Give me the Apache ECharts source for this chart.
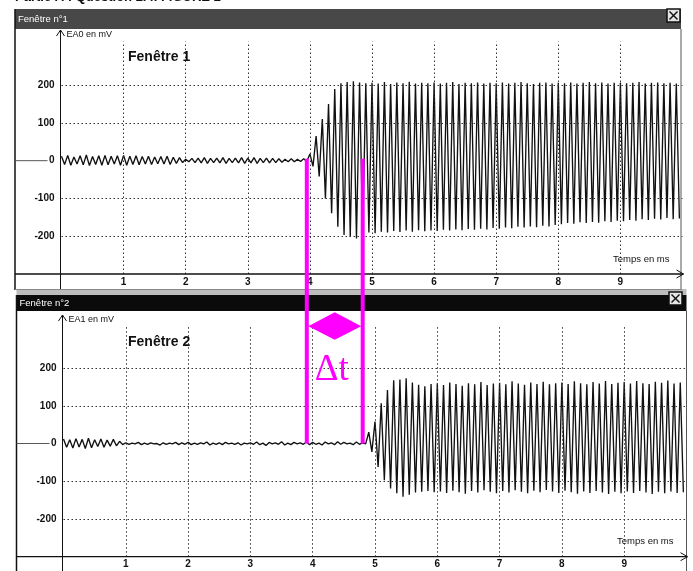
<!DOCTYPE html>
<html><head><meta charset="utf-8">
<script src="https://cdn.jsdelivr.net/npm/echarts@6/dist/echarts.min.js"></script>
<style>html,body{margin:0;padding:0;background:#fff}#c{width:693px;height:571px}</style>
</head><body><div id="c"></div>
<script>
// ---- data ----
const xTicks = [1,2,3,4,5,6,7,8,9];
const yTicks = [-200,-100,0,100,200];
const yGrid = [-200,-100,100,200];
const cycleMs = 0.1; // one maximum and one minimum per 0.1 ms
const ea0Max = [12,14,10,13,15,11,13,14,12,13, 14,12,13,11,12,10,11,12,9,8, 4,6,7,8,6,7,8,6,7,8, 7,8,6,7,6,5,4,5,4,5,
  18,65,110,150,190,205,208,210,207,205, 206,204,208,203,207,205,209,204,206,205, 207,204,206,208,203,206,205,207,204,206,
  205,207,204,206,208,205,203,206,207,204, 206,205,207,204,206,208,205,207,204,206, 207,205,206,208,204,206,207,205,206,204];
const ea0Min = [-10,-12,-9,-11,-13,-10,-12,-11,-9,-12, -12,-10,-11,-9,-10,-8,-9,-10,-7,-5, -3,-5,-6,-7,-5,-6,-7,-5,-6,-7, -6,-7,-5,-6,-5,-4,-3,-3,-2,-2,
  -15,-42,-100,-139,-175,-197,-201,-206,-197,-190, -192,-188,-190,-186,-189,-185,-188,-184,-187,-185, -186,-183,-185,-182,-184,-181,-183,-180,-182,-178,
  -180,-177,-179,-175,-177,-174,-176,-172,-174,-170, -168,-165,-167,-163,-165,-162,-164,-160,-162,-159, -160,-157,-159,-155,-157,-154,-156,-152,-155,-153];
const ea1Max = [12,10,13,11,14,10,12,9,11,6, 2,1,3,1,2,0,2,1,3,2, 3,1,2,4,1,2,3,1,2,1, 2,4,1,3,2,5,1,3,2,4,
  3,1,4,2,5,3,1,4,2,30, 58,107,142,168,170,173,162,156,152,158, 160,155,162,158,153,160,157,163,155,159,
  161,157,165,159,156,162,158,164,157,160, 162,158,165,160,157,163,159,166,158,161, 163,159,166,160,158,164,161,167,159,162];
const ea1Min = [-10,-12,-9,-13,-11,-8,-10,-7,-6,-3, -2,-1,-3,-2,-1,-4,-2,-1,-3,-2, -3,-2,-1,-4,-2,-3,-1,-2,-4,-1, -2,-3,-5,-1,-2,-4,-3,-1,-2,-3,
  -2,-4,-1,-3,-2,-1,-3,-2,-1,-22, -62,-97,-119,-132,-141,-136,-130,-128,-126,-129, -127,-131,-125,-129,-133,-126,-130,-124,-128,-132,
  -126,-130,-124,-128,-132,-125,-129,-123,-127,-131, -125,-129,-133,-127,-131,-126,-130,-134,-128,-132, -127,-131,-126,-130,-134,-128,-132,-127,-131,-129];
const deltaMarks = [3.95, 4.85]; // ms

// ---- build ----
function trace(maxs, mins){
  const d = [];
  for (let k = 0; k < maxs.length; k++){
    d.push([k*cycleMs, maxs[k]]);
    d.push([k*cycleMs + cycleMs/2, mins[k]]);
  }
  return d;
}
const FONT = '"Liberation Sans", Arial, sans-serif';
const chart = echarts.init(document.getElementById('c'), null, {renderer:'canvas'});
function xAx(gi){ return {type:'value', gridIndex:gi, min:0, max:10, interval:1,
  axisLine:{show:false}, axisTick:{show:false}, splitLine:{show:false},
  axisLabel:{margin:3, fontSize:10, fontWeight:'bold', color:'#111', fontFamily:FONT,
    formatter:v => xTicks.includes(v) ? String(v) : ''}}; }
function yAx(gi){ return {type:'value', gridIndex:gi, min:-300, max:315, interval:100,
  axisLine:{show:false}, axisTick:{show:false}, splitLine:{show:false},
  axisLabel:{margin:7, fontSize:10, fontWeight:'bold', color:'#111', fontFamily:FONT,
    formatter:v => yTicks.includes(v) ? String(v) : ''}}; }
function marks(){ return {silent:true, symbol:['none','none'], animation:false, label:{show:false},
  emphasis:{disabled:true}, lineStyle:{type:[1.5,2.5], color:'#333', width:1},
  data:[...xTicks.map(v=>({xAxis:v})), ...yGrid.map(v=>({yAxis:v}))]}; }
function ser(gi, data){ return {type:'line', xAxisIndex:gi, yAxisIndex:gi, data, showSymbol:false, symbol:'none',
  lineStyle:{color:'#111', width:1.35}, animation:false, silent:true, sampling:null, markLine:marks()}; }

chart.setOption({
  animation:false,
  backgroundColor:'#fff',
  grid:[
    {left:61.5, top:41.7, width:621, height:232.3, outerBoundsMode:'none', containLabel:false},
    {left:63.5, top:324.7, width:623, height:232, outerBoundsMode:'none', containLabel:false}
  ],
  xAxis:[xAx(0), xAx(1)],
  yAxis:[yAx(0), yAx(1)],
  series:[ser(0, trace(ea0Max, ea0Min)), ser(1, trace(ea1Max, ea1Min))]
});

const g = [];
function line(x1,y1,x2,y2,stroke,lw,z){ g.push({type:'line', silent:true, z:z||10, shape:{x1,y1,x2,y2}, style:{stroke, lineWidth:lw}}); }
function poly(points, stroke, lw, z){ g.push({type:'polyline', silent:true, z:z||10, shape:{points}, style:{stroke, lineWidth:lw, fill:null}}); }
function rect(x,y,w,h,fill,stroke,lw,z){ g.push({type:'rect', silent:true, z:z||5, shape:{x,y,width:w,height:h}, style:{fill, stroke:stroke||null, lineWidth:lw||0}}); }
function text(x,y,t,font,fill,align,z){ g.push({type:'text', silent:true, z:z||12, x, y,
  style:{text:t, font, fill, align:align||'left', textAlign:align||'left', verticalAlign:'middle', textVerticalAlign:'middle'}}); }

function panel(gi, o){
  const p0 = chart.convertToPixel({gridIndex:gi}, [0, 0]);
  const pE = chart.convertToPixel({gridIndex:gi}, [10, -300]);
  const yx = pE[1];
  const ax = p0[0] - 1;
  // window frame
  if (o.band) rect(o.left, o.barTop - 6, o.right - o.left, 6, '#bdbdbd');
  rect(o.left, o.barTop, o.right - o.left, o.barH, o.barFill);
  text(o.left + 3, o.barTop + o.barH/2 + 0.5, o.name, '9.5px ' + FONT, '#fff');
  rect(o.closeX, o.closeY, 13, 13, '#e6e6e6', '#111', 1.5, 6);
  line(o.closeX + 2.5, o.closeY + 2.5, o.closeX + 10.5, o.closeY + 10.5, '#111', 1.5, 7);
  line(o.closeX + 10.5, o.closeY + 2.5, o.closeX + 2.5, o.closeY + 10.5, '#111', 1.5, 7);
  line(o.left, o.barTop, o.left, o.bottom, '#111', 1.5);
  line(o.right, o.barTop + o.barH, o.right, o.bottom, '#555', 1);
  // axes
  line(ax, o.bottom, ax, o.arrowTop, '#111', 1);
  poly([[ax - 4, o.arrowTop + 6], [ax, o.arrowTop], [ax + 4, o.arrowTop + 6]], '#111', 1);
  line(o.left, yx, pE[0] + 1, yx, '#111', 1.3);
  poly([[pE[0] - 6, yx - 4], [pE[0] + 1, yx], [pE[0] - 6, yx + 4]], '#111', 1);
  line(o.left, p0[1], ax - 13, p0[1], '#555', 1);
  text(ax + 6, o.arrowTop + 5, o.ylab, '9px ' + FONT, '#111');
  text(128, o.titleY, o.title, 'bold 14px ' + FONT, '#111');
  text(pE[0] - 13, yx - 15, 'Temps en ms', '9.5px ' + FONT, '#111', 'right');
}

// header (cut by the top edge)
text(15, -2.5, 'Partie A : Question 2.4. FIGURE 2', 'bold 13px ' + FONT, '#111');
panel(0, {left:15, right:681, barTop:9, barH:20, barFill:'#484848', bottom:290, closeX:667, closeY:9,
  name:'Fenêtre n°1', ylab:'EA0 en mV', title:'Fenêtre 1', titleY:57, arrowTop:30});
panel(1, {left:16.5, right:686.5, barTop:295, barH:16, barFill:'#0b0b0b', bottom:571, closeX:669, closeY:292, band:true,
  name:'Fenêtre n°2', ylab:'EA1 en mV', title:'Fenêtre 2', titleY:342, arrowTop:315});
line(15, 289.5, 681, 289.5, '#888', 1);

// Δt annotation
const MAG = '#ff00ff';
const xs = deltaMarks.map(t => chart.convertToPixel({gridIndex:0}, [t, 0]));
const ysBottom = deltaMarks.map(t => chart.convertToPixel({gridIndex:1}, [t, 0])[1]);
xs.forEach((p, i) => line(p[0], p[1] - 2, p[0], ysBottom[i], MAG, 4, 50));
const gTop = chart.convertToPixel({gridIndex:1}, [0, 315])[1];
const xa = xs[0][0] + 1.5, xb = xs[1][0] - 1.5, ym = gTop + 1.5, xm = (xa + xb) / 2;
g.push({type:'polygon', silent:true, z:50, shape:{points:[[xa, ym], [xm, ym - 14], [xb, ym], [xm, ym + 13.5]]}, style:{fill:MAG}});
text(xm - 3, ym + 44, 'Δt', '37px "Liberation Serif", "Times New Roman", serif', MAG, 'center', 50);

chart.setOption({graphic:{elements:g}});
</script></body></html>
